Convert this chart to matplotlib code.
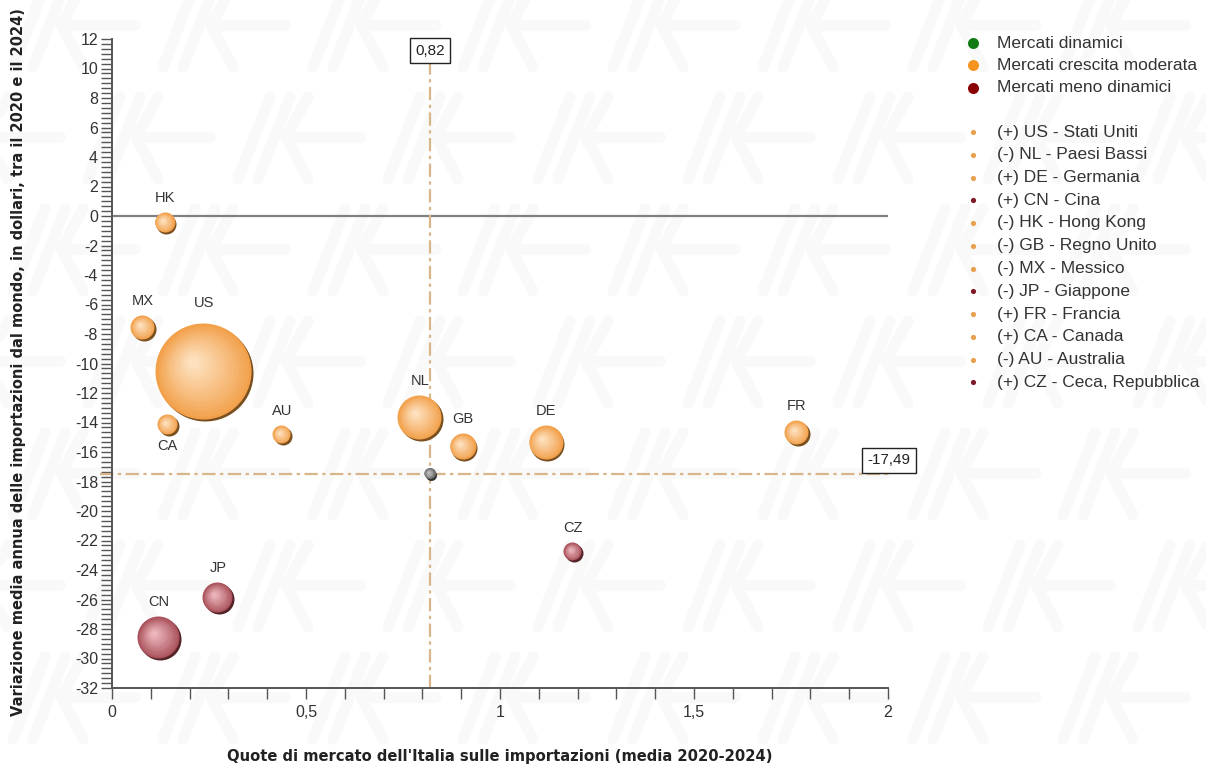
import numpy as np
import matplotlib
matplotlib.use("Agg")
import matplotlib.pyplot as plt
from matplotlib.transforms import ScaledTranslation
from matplotlib.ticker import MultipleLocator, FixedLocator
from matplotlib.colors import to_rgb

plt.rcParams['font.family'] = ['Liberation Sans', 'DejaVu Sans']
plt.rcParams['axes.unicode_minus'] = False

# ---------------- data ----------------
codes = ["US", "NL", "DE", "CN", "HK", "GB", "MX", "JP", "FR", "CA", "AU", "CZ"]
names = ["Stati Uniti", "Paesi Bassi", "Germania", "Cina", "Hong Kong", "Regno Unito",
         "Messico", "Giappone", "Francia", "Canada", "Australia", "Ceca, Repubblica"]
signs = ["(+)", "(-)", "(+)", "(+)", "(-)", "(-)", "(-)", "(-)", "(+)", "(+)", "(-)", "(+)"]
quota = [0.237, 0.794, 1.119, 0.121, 0.137, 0.905, 0.080, 0.273, 1.765, 0.144, 0.438, 1.188]
variazione = [-10.58, -13.69, -15.39, -28.61, -0.47, -15.66, -7.59, -25.90, -14.71, -14.17, -14.85, -22.78]
dimensione = [2304, 484, 289, 441, 100, 169, 144, 225, 144, 100, 81, 81]
gruppo = ["moderata", "moderata", "moderata", "meno", "moderata", "moderata",
          "moderata", "meno", "moderata", "moderata", "moderata", "meno"]
label_below = ["CA"]
media_x = 0.82
media_y = -17.49
categorie = ["Mercati dinamici", "Mercati crescita moderata", "Mercati meno dinamici"]
colori_categorie = ["#127a12", "#f7941d", "#8b0000"]

xticks = [0, 0.5, 1, 1.5, 2]
xticklabels = ["0", "0,5", "1", "1,5", "2"]
yticks = list(range(-32, 13, 2))

# ---------------- figure ----------------
W, H, DPI = 1206, 767, 100
fig = plt.figure(figsize=(W / DPI, H / DPI), dpi=DPI)
fig.patch.set_facecolor("white")

# faint background watermark (pixel coordinates)
bg = fig.add_axes([0, 0, 1, 1], facecolor="none", zorder=-5)
bg.set_xlim(0, W)
bg.set_ylim(H, 0)
bg.axis("off")
wm_col = "#f9f9f9"
row_y = np.arange(25, H + 120, 112)
for ri, cy in enumerate(row_y):
    shift = 0 if ri % 2 else 75
    for cx in np.arange(-150 + shift, W + 150, 150):
        kw = dict(color=wm_col, lw=8, solid_capstyle="round", zorder=-5)
        bg.plot([cx - 62, cx - 30], [cy + 42, cy - 40], **kw)
        bg.plot([cx - 42, cx - 10], [cy + 42, cy - 40], **kw)
        bg.plot([cx + 8, cx - 14, cx + 8], [cy - 40, cy, cy + 42], **kw)
        bg.plot([cx - 8, cx + 60], [cy, cy], **kw)

ax = fig.add_axes([112 / W, 1 - 688 / H, 776 / W, 649 / H])
ax.set_xlim(0, 2)
ax.set_ylim(-32, 12)
ax.set_facecolor("none")
for s in ["top", "right"]:
    ax.spines[s].set_visible(False)
for s in ["left", "bottom"]:
    ax.spines[s].set_color("#555555")
    ax.spines[s].set_linewidth(1.4)

ax.xaxis.set_major_locator(FixedLocator(xticks))
ax.set_xticklabels(xticklabels)
ax.xaxis.set_minor_locator(MultipleLocator(0.1))
ax.yaxis.set_major_locator(FixedLocator(yticks))
ax.yaxis.set_minor_locator(MultipleLocator(2 / 6))
ax.tick_params(axis="both", which="both", direction="out", color="#555555", width=1.0)
ax.tick_params(axis="both", which="major", length=8, labelsize=11.5, labelcolor="#333333")
ax.tick_params(axis="both", which="minor", length=8)
ax.tick_params(axis="x", which="major", pad=4)
ax.tick_params(axis="y", which="major", pad=2)

# reference lines
ax.axhline(0, color="#808080", lw=1.6, zorder=2)
ax.plot([media_x, media_x], [-32, 10.3], color="#d8b68a", lw=1.6,
        linestyle=(0, (6, 2, 1.5, 2)), zorder=2)
ax.plot([-0.03, 2.0], [media_y, media_y], color="#d8b68a", lw=1.6,
        linestyle=(0, (6, 2, 1.5, 2)), zorder=2, clip_on=False)

# ---------------- bubbles ----------------
def mix(c1, c2, t):
    a, b = np.array(to_rgb(c1)), np.array(to_rgb(c2))
    return tuple(a + (b - a) * t)

def off(dx_px, dy_px):
    return ax.transData + ScaledTranslation(dx_px / DPI, dy_px / DPI, fig.dpi_scale_trans)

def bubble(x, y, r_px, base, light, dark, z):
    r_pt = r_px * 72 / DPI
    ax.scatter([x], [y], s=(2 * r_pt) ** 2, color=dark, linewidths=0,
               transform=off(1.1, -1.1), zorder=z)
    N = 16
    for k in range(N):
        t = k / (N - 1)
        rr = r_pt * (1 - 0.88 * t)
        shift = 0.22 * r_px * t
        col = mix(base, light, t ** 0.9)
        ax.scatter([x], [y], s=(2 * rr) ** 2, color=col, linewidths=0,
                   transform=off(-0.6 - shift, 0.6 + shift * 0.9), zorder=z + 0.001 * k)

pal = {
    "moderata": ("#f2a04a", "#fde0bd", "#7a5020"),
    "meno": ("#a9505a", "#ecb6bc", "#552428"),
    "dinamici": ("#1d8a1d", "#8fd08f", "#0b3a0b"),
}
scale_r = 1.0
radii = [np.sqrt(d) * scale_r for d in dimensione]
order = list(np.argsort(radii)[::-1])
for rank, i in enumerate(order):
    b, l, d = pal[gruppo[i]]
    bubble(quota[i], variazione[i], radii[i], b, l, d, 3 + rank * 0.1)
    extra = 21 if codes[i] == "US" else 15
    dy = -(radii[i] + 11) if codes[i] in label_below else (radii[i] + extra)
    ax.annotate(codes[i], (quota[i], variazione[i]), xytext=(0, dy * 72 / DPI),
                textcoords="offset points", ha="center", va="center",
                fontsize=10.5, color="#333333", zorder=10)

# centre point
bubble(media_x, media_y, 5.5, "#6e6e6e", "#c0c0c0", "#333333", 6)

# value boxes
ax.text(media_x, 11.22, "0,82", ha="center", va="center", fontsize=11, color="#222222",
        bbox=dict(boxstyle="square,pad=0.35", fc="white", ec="#222222", lw=1.0), zorder=8,
        clip_on=False)
ax.text(2.003, -16.56, "-17,49", ha="center", va="center", fontsize=11, color="#222222",
        bbox=dict(boxstyle="square,pad=0.35", fc="white", ec="#222222", lw=1.0), zorder=8,
        clip_on=False)

# axis titles
fig.text(500 / W, 1 - 757 / H, "Quote di mercato dell'Italia sulle importazioni (media 2020-2024)",
         ha="center", va="center", fontsize=10.6, fontweight="bold", color="#222222",
         family=["DejaVu Sans"])
fig.text(19 / W, 1 - 362 / H,
         "Variazione media annua delle importazioni dal mondo, in dollari, tra il 2020 e il 2024)",
         ha="center", va="center", rotation=90, fontsize=10.5, fontweight="bold", color="#222222",
         family=["DejaVu Sans"])

# ---------------- legend (overlay axes in pixel coords) ----------------
lax = fig.add_axes([0, 0, 1, 1], facecolor="none")
lax.set_xlim(0, W)
lax.set_ylim(H, 0)
lax.axis("off")

cat_y = [43, 65, 88]
for c, col, yy in zip(categorie, colori_categorie, cat_y):
    lax.scatter([973], [yy], s=(2 * 5.5 * 72 / DPI) ** 2, color=col, linewidths=0, zorder=3)
    lax.text(997, yy, c, ha="left", va="center", fontsize=12.5, color="#333333")

for k in range(len(codes)):
    yy = 132 + k * 22.75
    small = "#e7a04f" if gruppo[k] == "moderata" else "#7d1a28"
    lax.scatter([973], [yy], s=(2 * 2.6 * 72 / DPI) ** 2, color=small, linewidths=0, zorder=3)
    lax.text(997, yy, f"{signs[k]} {codes[k]} - {names[k]}", ha="left", va="center",
             fontsize=12.5, color="#333333")

fig.savefig("out.png", dpi=DPI, facecolor="white")
